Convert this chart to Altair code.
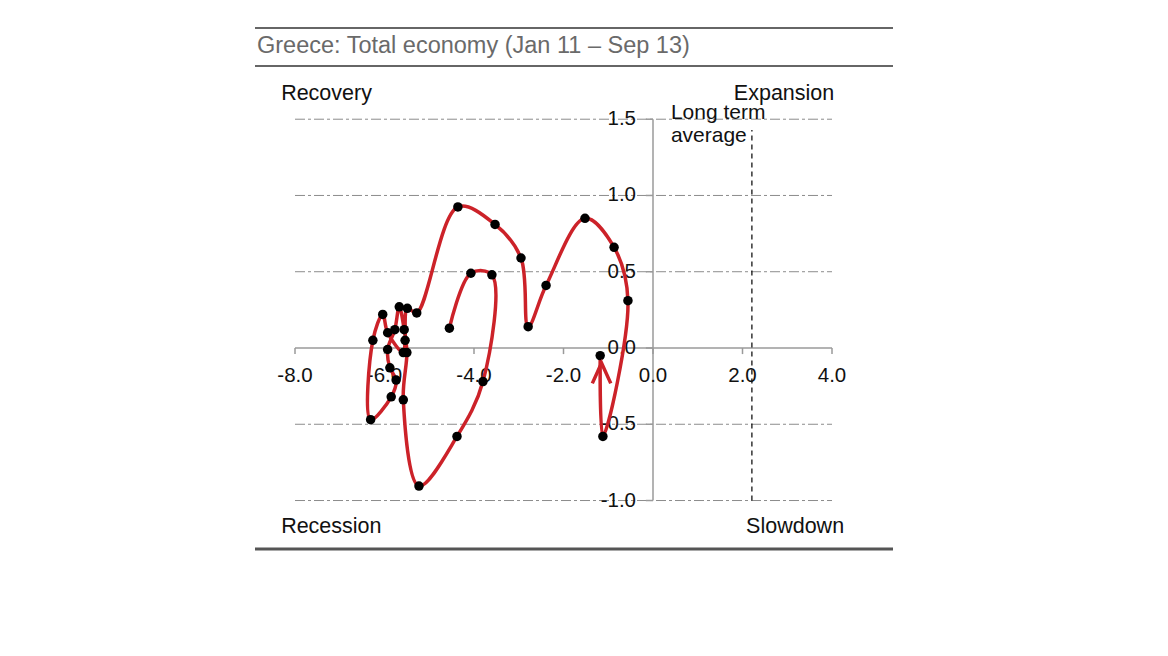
import altair as alt
import pandas as pd

# ---- data ----
months = ["Jan 11", "Feb 11", "Mar 11", "Apr 11", "May 11", "Jun 11", "Jul 11", "Aug 11",
          "Sep 11", "Oct 11", "Nov 11", "Dec 11", "Jan 12", "Feb 12", "Mar 12", "Apr 12",
          "May 12", "Jun 12", "Jul 12", "Aug 12", "Sep 12", "Oct 12", "Nov 12", "Dec 12",
          "Jan 13", "Feb 13", "Mar 13", "Apr 13", "May 13", "Jun 13", "Jul 13", "Aug 13",
          "Sep 13"]
level_x = [-4.55, -4.07, -3.60, -3.80, -4.38, -5.23, -5.58, -5.50, -5.56, -5.67, -5.77,
           -5.93, -5.88, -5.74, -5.85, -6.31, -6.26, -6.04, -5.93, -5.58, -5.54, -5.49,
           -5.28, -4.36, -3.53, -2.95, -2.79, -2.39, -1.52, -0.87, -0.56, -1.12, -1.18]
momentum_y = [0.13, 0.49, 0.48, -0.22, -0.58, -0.905, -0.34, -0.03, 0.12, 0.27, 0.12,
              -0.01, -0.13, -0.21, -0.32, -0.47, 0.05, 0.22, 0.10, -0.03, 0.05, 0.26,
              0.23, 0.925, 0.81, 0.59, 0.14, 0.41, 0.85, 0.66, 0.31, -0.58, -0.05]

x_ticks = [-8, -6, -4, -2, 0, 2, 4]
x_labels = ["-8.0", "-6.0", "-4.0", "-2.0", "0.0", "2.0", "4.0"]
y_ticks = [-1.0, -0.5, 0.0, 0.5, 1.0, 1.5]
y_labels = ["-1.0", "-0.5", "0.0", "0.5", "1.0", "1.5"]
grid_y = [-1.0, -0.5, 0.5, 1.0, 1.5]
long_term_avg = 2.21

title_text = "Greece: Total economy (Jan 11 \u2013 Sep 13)"
quad_names = ["Recovery", "Expansion", "Recession", "Slowdown"]
quad_x = [-8.31, 4.05, -8.31, 4.27]
quad_y = [1.666, 1.666, -1.174, -1.174]
quad_align = ["left", "right", "left", "right"]
lta_lines = ["Long term", "average"]
lta_text_y = [1.541, 1.39]

# ---- layout ----
X_DOM = [-8.894, 5.363]
Y_DOM = [-1.390, 2.216]
W, H = 638, 550
RED = "#cc2229"
FONT = "Liberation Sans"
AXIS_GREY = "#9a9a9a"

xs = alt.Scale(domain=X_DOM, nice=False, zero=False)
ys = alt.Scale(domain=Y_DOM, nice=False, zero=False)


def X(field="x"):
    return alt.X(f"{field}:Q", scale=xs, axis=None)


def Y(field="y"):
    return alt.Y(f"{field}:Q", scale=ys, axis=None)


def hrule(df, **kw):
    return alt.Chart(df).mark_rule(**kw).encode(y=Y(), x=X("x0"), x2="x1:Q")


def vrule(df, **kw):
    return alt.Chart(df).mark_rule(**kw).encode(x=X(), y=Y("y0"), y2="y1:Q")


series = pd.DataFrame({"month": months, "x": level_x, "y": momentum_y,
                       "idx": list(range(len(months)))})

grid = hrule(pd.DataFrame({"y": grid_y, "x0": -8, "x1": 4}),
             color="#8c8c8c", strokeWidth=1, strokeDash=[10, 3, 3, 3])
x_axis = hrule(pd.DataFrame({"y": [0], "x0": [-8], "x1": [4]}), color=AXIS_GREY, strokeWidth=1.5)
y_axis = vrule(pd.DataFrame({"x": [0], "y0": [-1.0], "y1": [1.5]}), color=AXIS_GREY, strokeWidth=1.5)

x_tick_marks = vrule(pd.DataFrame({"x": x_ticks, "y0": 0.0, "y1": -0.04}),
                     color=AXIS_GREY, strokeWidth=1.5)
y_tick_marks = hrule(pd.DataFrame({"y": y_ticks, "x0": 0.0, "x1": -0.16}),
                     color=AXIS_GREY, strokeWidth=1.5)

x_tick_labels = alt.Chart(pd.DataFrame({"x": x_ticks, "y": 0.0, "t": x_labels})).mark_text(
    font=FONT, fontSize=20.5, color="#111", align="center", baseline="middle", dy=28
).encode(x=X(), y=Y(), text="t:N")
y_tick_labels = alt.Chart(pd.DataFrame({"y": y_ticks, "x": 0.0, "t": y_labels})).mark_text(
    font=FONT, fontSize=20.5, color="#111", align="right", baseline="middle", dx=-17
).encode(x=X(), y=Y(), text="t:N")

lta = vrule(pd.DataFrame({"x": [long_term_avg], "y0": [-1.0], "y1": [1.43]}),
            color="black", strokeWidth=1.2, strokeDash=[5, 4])
lta_label = alt.Chart(pd.DataFrame({"t": lta_lines, "y": lta_text_y, "x": 0.40})).mark_text(
    font=FONT, fontSize=21, color="#111", align="left", baseline="middle"
).encode(x=X(), y=Y(), text="t:N")

line = alt.Chart(series).mark_line(interpolate="catmull-rom", color=RED, strokeWidth=3.5).encode(
    x=X(), y=Y(), order="idx:Q")
dots = alt.Chart(series).mark_circle(size=90, color="black", opacity=1).encode(x=X(), y=Y())

arrow_df = pd.DataFrame({"x": [level_x[-1] + 0.03], "y": [momentum_y[-1] - 0.115]})
arrow = alt.Chart(arrow_df).mark_point(
    shape="M-0.9,1L0,-1L0.9,1", filled=False, size=420, strokeWidth=3.5, color=RED, opacity=1
).encode(x=X(), y=Y())

quad_layers = []
for name, qx, qy, qa in zip(quad_names, quad_x, quad_y, quad_align):
    quad_layers.append(
        alt.Chart(pd.DataFrame({"t": [name], "x": [qx], "y": [qy]})).mark_text(
            font=FONT, fontSize=21.5, color="#111", baseline="middle", align=qa
        ).encode(x=X(), y=Y(), text="t:N")
    )

title = alt.Chart(pd.DataFrame({"t": [title_text], "x": [-8.85], "y": [1.98]})).mark_text(
    font=FONT, fontSize=23.5, color="#6a6a6a", align="left", baseline="middle"
).encode(x=X(), y=Y(), text="t:N")

title_rules = hrule(pd.DataFrame({"y": [2.098, 1.849], "x0": X_DOM[0], "x1": X_DOM[1]}),
                    color="#333", strokeWidth=1.5)
bottom_rule = hrule(pd.DataFrame({"y": [-1.318], "x0": [X_DOM[0]], "x1": [X_DOM[1]]}),
                    color="#555", strokeWidth=3)

chart = alt.layer(
    grid, x_axis, y_axis, x_tick_marks, y_tick_marks, lta,
    x_tick_labels, y_tick_labels, lta_label,
    line, dots, arrow, *quad_layers, title, title_rules, bottom_rule
).properties(
    width=W, height=H,
    padding={"left": 247, "top": 2, "right": 0, "bottom": 0},
    autosize=alt.AutoSizeParams(type="none"),
    background="white",
).configure_view(stroke=None)

chart.save("out.html", embed_options={"renderer": "svg", "actions": False})
